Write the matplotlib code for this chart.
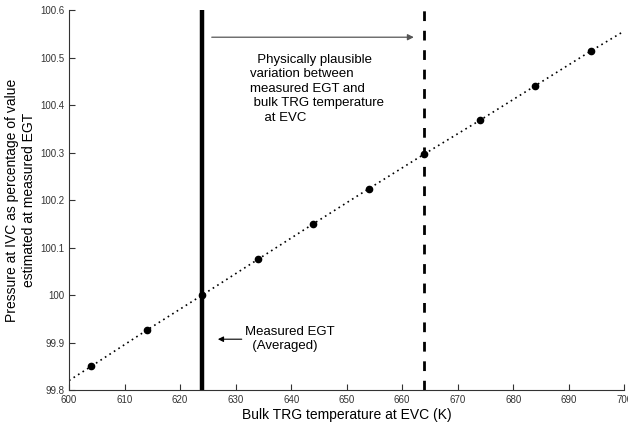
import matplotlib
matplotlib.use("Agg")
import matplotlib.pyplot as plt

plt.rcParams['font.family'] = ['Liberation Sans', 'DejaVu Sans']

temps = [604, 614, 624, 634, 644, 654, 664, 674, 684, 694]
pressure_pct = [99.85, 99.926, 100.0, 100.075, 100.150, 100.224, 100.297, 100.368, 100.441, 100.514]
fit_x = [600, 604, 614, 624, 634, 644, 654, 664, 674, 684, 694, 700]
fit_y = [99.82, 99.85, 99.926, 100.0, 100.075, 100.150, 100.224, 100.297, 100.368, 100.441, 100.514, 100.556]
measured_egt = 624
plausible_egt = 664
xticks = [600, 610, 620, 630, 640, 650, 660, 670, 680, 690, 700]
yticks = [99.8, 99.9, 100.0, 100.1, 100.2, 100.3, 100.4, 100.5, 100.6]
ytick_labels = ["99.8", "99.9", "100", "100.1", "100.2", "100.3", "100.4", "100.5", "100.6"]

fig = plt.figure(figsize=(6.28, 4.23), dpi=100)
ax = fig.add_axes([0.110, 0.078, 0.884, 0.898])

ax.plot(fit_x, fit_y, linestyle=(0, (1, 2.2)), color='black', linewidth=1.2)
ax.plot(temps, pressure_pct, 'o', color='black', markersize=4.5, linestyle='none')
ax.axvline(measured_egt, color='black', linewidth=3.2)
ax.axvline(plausible_egt, color='black', linewidth=2, linestyle=(0, (3.5, 3.5)))

ax.annotate('', xy=(662.6, 100.543), xytext=(625.2, 100.543),
            arrowprops=dict(arrowstyle='-|>', color='#555555', lw=0.9, mutation_scale=9))
ax.text(632.5, 100.508,
        "  Physically plausible\nvariation between\nmeasured EGT and\n bulk TRG temperature\n    at EVC",
        fontsize=9.5, va='top', ha='left', linespacing=1.28)

ax.annotate('', xy=(626.3, 99.907), xytext=(631.6, 99.907),
            arrowprops=dict(arrowstyle='-|>', color='black', lw=0.8, mutation_scale=8))
ax.text(631.7, 99.907, "Measured EGT\n  (Averaged)", fontsize=9.5, va='center', ha='left',
        linespacing=1.25)

ax.set_xlim(600, 700)
ax.set_ylim(99.8, 100.6)
ax.set_xticks(xticks)
ax.set_yticks(yticks)
ax.set_yticklabels(ytick_labels)
ax.tick_params(direction='in', labelsize=7, length=4, width=0.8, color='#333333', labelcolor='#333333')
for s in ['top', 'right']:
    ax.spines[s].set_visible(False)
for s in ['left', 'bottom']:
    ax.spines[s].set_linewidth(0.8)
    ax.spines[s].set_color('#333333')

ax.set_xlabel("Bulk TRG temperature at EVC (K)", fontsize=10, labelpad=2)
ax.set_ylabel("Pressure at IVC as percentage of value\nestimated at measured EGT", fontsize=10,
              linespacing=1.3, labelpad=3)

fig.savefig("out.png", dpi=100)
